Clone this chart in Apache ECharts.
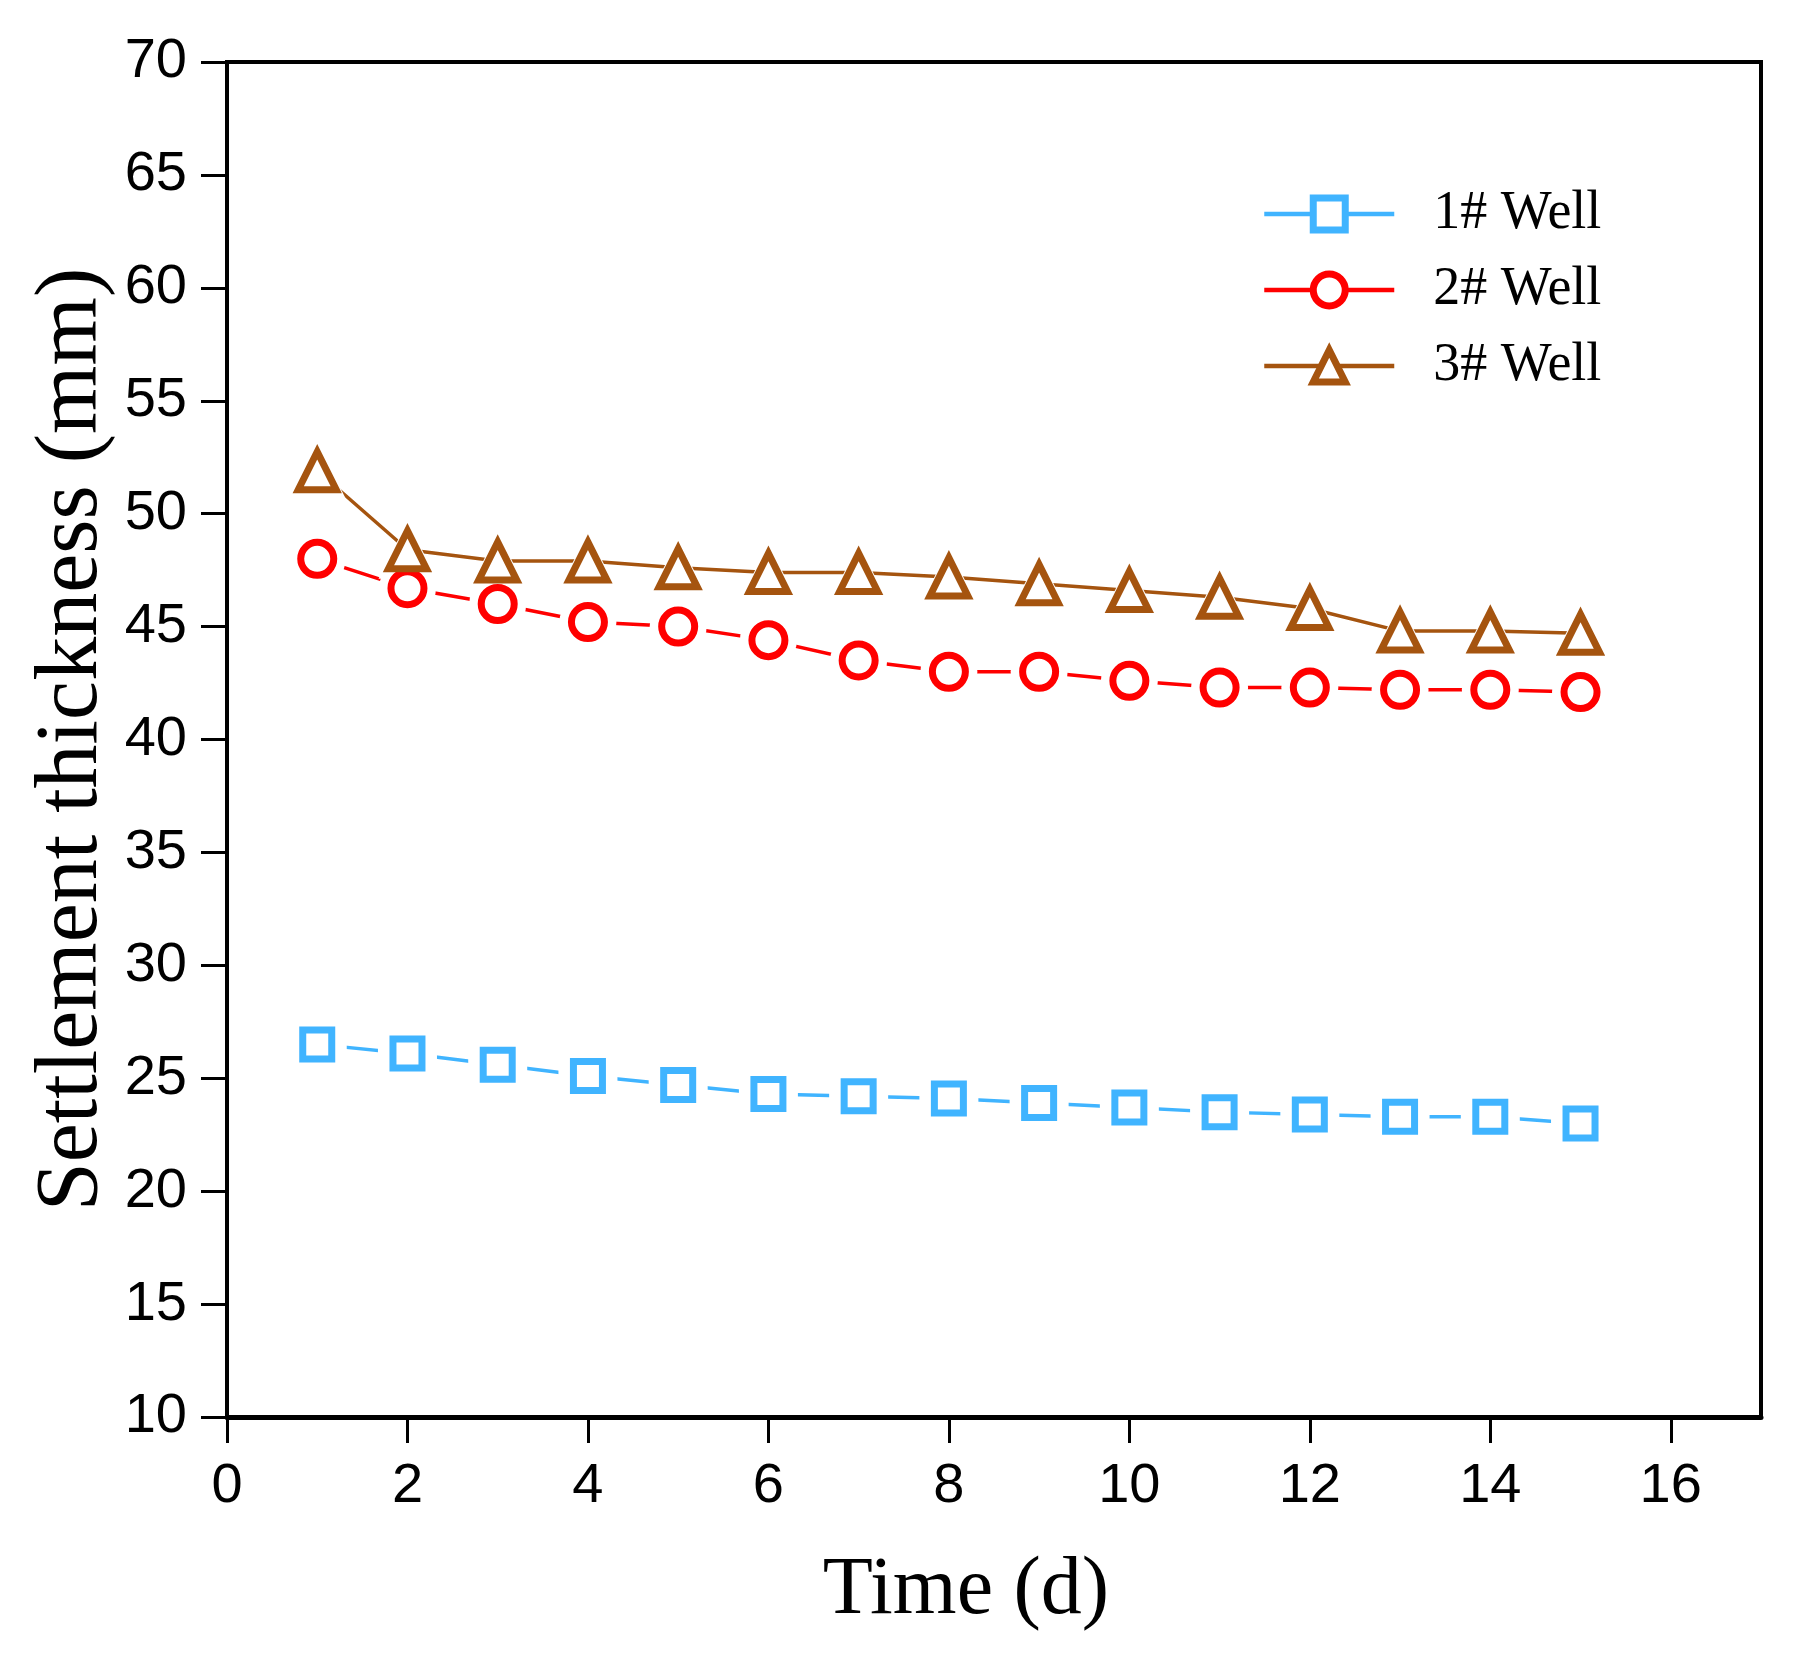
<!DOCTYPE html>
<html>
<head>
<meta charset="utf-8">
<title>Settlement thickness</title>
<script src="https://cdn.jsdelivr.net/npm/echarts@6/dist/echarts.min.js"></script>
<style>
  html, body { margin: 0; padding: 0; background: #fff; }
  #main { width: 1797px; height: 1666px; }
</style>
</head>
<body>
<div id="main"></div>
<script>
// 数据
var days = [1, 2, 3, 4, 5, 6, 7, 8, 9, 10, 11, 12, 13, 14, 15];
var well1 = [26.5, 26.1, 25.6, 25.1, 24.7, 24.3, 24.2, 24.1, 23.9, 23.7, 23.5, 23.4, 23.3, 23.3, 23.0];
var well2 = [48.0, 46.7, 46.0, 45.2, 45.0, 44.4, 43.5, 43.0, 43.0, 42.6, 42.3, 42.3, 42.2, 42.2, 42.1];
var well3 = [51.9, 48.4, 47.9, 47.9, 47.6, 47.4, 47.4, 47.2, 46.9, 46.6, 46.3, 45.8, 44.8, 44.8, 44.7];
var seriesNames = ['1# Well', '2# Well', '3# Well'];
var xTicks = [0, 2, 4, 6, 8, 10, 12, 14, 16];

function pairs(ys) {
  return days.map(function (d, i) { return [d, ys[i]]; });
}

var tickFont = '"Liberation Sans Narrow", "Arial Narrow", "Liberation Sans", Arial, sans-serif';
var serifFont = '"Liberation Serif", "Times New Roman", serif';

// 每条曲线: 线 + 白色衬底(做出线与点之间的空隙) + 空心点
var wells = [
  { name: seriesNames[0], ys: well1, color: '#40B4FF', symbol: 'rect', size: 29, halo: 30 },
  { name: seriesNames[1], ys: well2, color: '#FF0000', symbol: 'circle', size: 33, halo: 24 },
  { name: seriesNames[2], ys: well3, color: '#A5540F', symbol: 'triangle', size: 38, halo: 20 }
];

var series = [];
wells.forEach(function (w) {
  series.push({
    name: w.name,
    type: 'line',
    data: pairs(w.ys),
    symbol: w.symbol,
    symbolSize: w.size,
    showAllSymbol: true,
    lineStyle: { color: w.color, width: 3.5 },
    itemStyle: { color: '#fff', borderColor: w.color, borderWidth: 7 },
    emphasis: { disabled: true },
    z: 2
  });
});
wells.forEach(function (w) {
  series.push({
    type: 'scatter',
    data: pairs(w.ys),
    symbol: w.symbol,
    symbolSize: w.size + w.halo,
    itemStyle: { color: '#fff', borderWidth: 0, opacity: 1 },
    emphasis: { disabled: true },
    silent: true,
    z: 3
  });
});
wells.forEach(function (w) {
  series.push({
    type: 'scatter',
    data: pairs(w.ys),
    symbol: w.symbol,
    symbolSize: w.size,
    itemStyle: { color: '#fff', borderColor: w.color, borderWidth: 7, opacity: 1 },
    emphasis: { disabled: true },
    silent: true,
    z: 4
  });
});

var chart = echarts.init(document.getElementById('main'));

var option = {
  backgroundColor: '#fff',
  animation: false,
  grid: {
    left: 227, right: 36, top: 62, bottom: 249,
    show: true, borderColor: '#000', borderWidth: 4
  },
  legend: {
    orient: 'vertical',
    left: 1257,
    top: 182,
    itemWidth: 130,
    itemHeight: 40,
    itemGap: 22,
    data: seriesNames,
    lineStyle: { width: 4.5 },
    itemStyle: { borderWidth: 7 },
    textStyle: {
      fontFamily: serifFont,
      fontSize: 54,
      color: '#000',
      padding: [0, 0, 0, 34]
    }
  },
  xAxis: {
    type: 'value',
    min: 0, max: 17, interval: 2,
    name: 'Time (d)',
    nameLocation: 'middle',
    nameGap: 133,
    nameMoveOverlap: false,
    nameTextStyle: { fontFamily: serifFont, fontSize: 82, color: '#000', padding: [0, 56, 0, 0] },
    axisLine: { show: true, lineStyle: { color: '#000', width: 5 } },
    axisTick: { show: true, inside: false, length: 26, customValues: xTicks, lineStyle: { color: '#000', width: 3 } },
    axisLabel: { margin: 42, customValues: xTicks, fontFamily: tickFont, fontSize: 56, color: '#000' },
    splitLine: { show: false }
  },
  yAxis: {
    type: 'value',
    min: 10, max: 70, interval: 5,
    name: 'Settlement thickness (mm)',
    nameLocation: 'middle',
    nameGap: 110,
    nameMoveOverlap: false,
    nameTextStyle: { fontFamily: serifFont, fontSize: 88, color: '#000' },
    axisLine: { show: true, lineStyle: { color: '#000', width: 4 } },
    axisTick: { show: true, inside: false, length: 26, lineStyle: { color: '#000', width: 3 } },
    axisLabel: { margin: 40, fontFamily: tickFont, fontSize: 56, color: '#000' },
    splitLine: { show: false }
  },
  series: series
};

chart.setOption(option);
</script>
</body>
</html>
